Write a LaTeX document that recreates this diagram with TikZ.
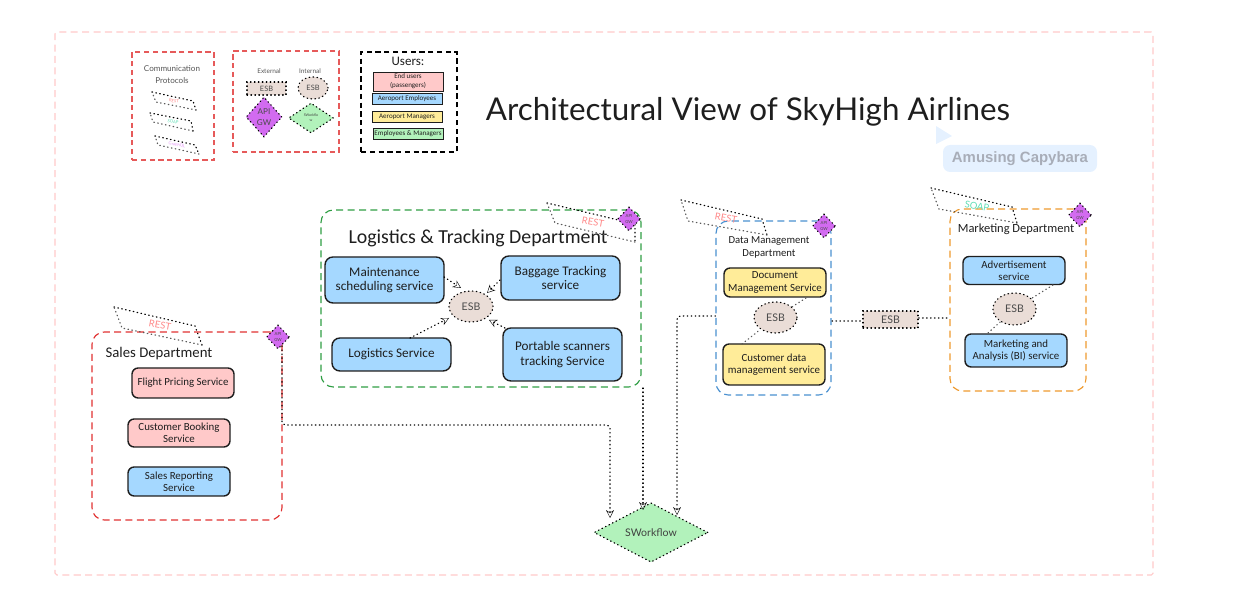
\documentclass[tikz,border=0pt]{standalone}
\usepackage{fontspec}
\setmainfont{Lato}
\newfontfamily\handfont{Carlito}
\newfontfamily\badgefont{Liberation Sans}
\usetikzlibrary{shapes.geometric,arrows.meta}

\definecolor{framepink}{HTML}{FFC9C9}
\definecolor{salesred}{HTML}{E03131}
\definecolor{logigreen}{HTML}{2F9E44}
\definecolor{datablue}{HTML}{4A90D0}
\definecolor{markorange}{HTML}{EE9A2E}
\definecolor{svcblue}{HTML}{A5D8FF}
\definecolor{svcpink}{HTML}{FFC9C9}
\definecolor{svcyellow}{HTML}{FFEC99}
\definecolor{svcgreen}{HTML}{B2F2BB}
\definecolor{esbfill}{HTML}{EADDD7}
\definecolor{gwviolet}{HTML}{D26BF0}
\definecolor{restpink}{HTML}{FF8787}
\definecolor{soapgreen}{HTML}{5FDDB5}
\definecolor{graphviolet}{HTML}{E599F7}
\definecolor{inktext}{HTML}{1E1E1E}
\definecolor{badgeblue}{HTML}{E5F1FF}
\definecolor{badgegray}{HTML}{A8ADB8}

\tikzset{
  wh/.style 2 args={minimum width=#1*0.02cm,minimum height=#2*0.02cm,inner sep=0pt},
  dotline/.style={line width=0.7pt,line cap=round,dash pattern=on 0.35pt off 1.9pt,draw=black},
  grayline/.style={line width=0.7pt,line cap=round,dash pattern=on 0.35pt off 1.9pt,draw=black!65},
  arrowline/.style={dotline,-{Stealth[open,length=4.5pt,width=4.5pt,line width=0.25pt]}},
  group/.style={draw=#1,line width=0.65pt,rounded corners=7pt,dash pattern=on 4pt off 2.5pt},
  legendbox/.style={draw=#1,line width=0.6pt,dash pattern=on 3pt off 2pt},
  service/.style={draw=inktext,fill=#1,line width=0.8pt,rounded corners=4.5pt,align=center,text=inktext,
    font=\handfont\fontsize{7.5}{8.4}\selectfont},
  smallservice/.style={service=#1,rounded corners=3.5pt,font=\handfont\fontsize{6.2}{7}\selectfont},
  userbox/.style={draw=inktext,fill=#1,line width=0.5pt,align=center,text=inktext,
    font=\handfont\fontsize{4}{5.2}\selectfont},
  esbnode/.style={dotline,fill=esbfill,text=inktext!80,font=\fontsize{6}{7}\selectfont},
  gwnode/.style={diamond,dotline,fill=gwviolet,align=center,text=inktext!80,font=\fontsize{2.4}{3.4}\selectfont},
  flownode/.style={diamond,dotline,fill=svcgreen,align=center,text=inktext!85,font=\fontsize{6}{7}\selectfont},
  hand/.style 2 args={align=center,text=inktext,font=\handfont\fontsize{#1}{#2}\selectfont},
  plainlabel/.style 2 args={align=center,text=inktext!75,font=\fontsize{#1}{#2}\selectfont},
  proto/.style={text=#1,font=\fontsize{5.4}{6}\selectfont,rotate=-10},
  tinyproto/.style={proto=#1,font=\fontsize{2.4}{3}\selectfont}
}

\begin{document}
\begin{tikzpicture}[x=0.02cm,y=-0.02cm]
  \useasboundingbox(0,0)rectangle(1251,597);

  % frame
  \node[wh={1098}{543},draw=framepink,line width=0.6pt,dash pattern=on 4pt off 2.5pt,rounded corners=1pt](frame)at(604,303.5){};

  % legend
  \node[wh={82}{108},legendbox=salesred!80](protobox)at(173,106){};
  \node[wh={106}{101},legendbox=salesred!80](shapebox)at(286,101.5){};
  \node[wh={96}{100},legendbox=black](userbox)at(409,102){};
  \node[plainlabel={4.6}{6.8}](prototitle)at(172,75){Communication\\Protocols};
  \draw[dotline](152,92)--(193,101)--(196,110);
  \draw[grayline](196,110)--(156,102)--(152,92);
  \node[tinyproto=restpink](protoa)at(174,101){REST};
  \draw[dotline](150,113)--(191,121)--(193,131);
  \draw[grayline](193,131)--(153,122)--(150,113);
  \node[tinyproto=soapgreen](protob)at(173,122){SOAP};
  \draw[dotline](155,136)--(195,145)--(199,154);
  \draw[grayline](199,154)--(158,145)--(155,136);
  \node[tinyproto=graphviolet](protoc)at(177,145){GraphQL};
  \node[plainlabel={3.7}{4.4}](extlabel)at(269,71){External};
  \node[plainlabel={3.7}{4.4}](intlabel)at(310,71){Internal};
  \node[esbnode,wh={39}{13},font=\fontsize{4.2}{5}\selectfont](extesb)at(266.5,88.5){ESB};
  \node[esbnode,ellipse,wh={30}{22},font=\fontsize{4.2}{5}\selectfont](intesb)at(313,88){ESB};
  \node[gwnode,wh={36}{40},font=\fontsize{4.6}{6}\selectfont](legendgw)at(264,117){API\\GW};
  \node[flownode,wh={45}{30},font=\fontsize{2}{3}\selectfont](legendflow)at(311,118){SWorkflo\\w};
  \node[hand={7.4}{9}](usertitle)at(408,61){Users:};
  \node[userbox=svcpink,wh={70}{19}](enduser)at(408,81.5){End users\\(passengers)};
  \node[userbox=svcblue,wh={70}{11}](aeroemp)at(407,98.5){Aeroport Employees};
  \node[userbox=svcyellow,wh={70}{11}](aeroman)at(407,116.5){Aeroport Managers};
  \node[userbox=svcgreen,wh={70}{11}](empman)at(408,133.5){Employees \& Managers};

  % title
  \node[text=inktext,font=\fontsize{17.85}{20}\selectfont](title)at(748,112){Architectural View of SkyHigh Airlines};
  \fill[badgeblue](936,126)--(952,136)--(936,144)--cycle;
  \node[wh={154}{27},fill=badgeblue,rounded corners=4pt,text=badgegray,font=\badgefont\bfseries\fontsize{8.5}{9}\selectfont](badge)at(1020,158.5){Amusing Capybara};

  % departments
  \node[wh={190}{188},group=salesred](sales)at(187,426){};
  \node[wh={320}{177},group=logigreen](logistics)at(481,298.5){};
  \node[wh={115}{174},group=datablue](data)at(773.5,308){};
  \node[wh={136}{182},group=markorange](marketing)at(1018,300){};
  \node[hand={8.4}{10}](salestitle)at(159,354){Sales Department};
  \node[hand={11.3}{13}](logititle)at(478,238){Logistics \& Tracking Department};
  \node[hand={6.1}{7.4}](datatitle)at(769,247.5){Data Management\\Department};
  \node[hand={7.1}{9}](marktitle)at(1016,229){Marketing Department};

  % protocol shapes
  \draw[dotline](114,307)--(195,326)--(202,345);
  \draw[grayline](202,345)--(122,328)--(114,307);
  \node[proto=restpink](restsales)at(160,325){REST};
  \draw[dotline](547,203)--(635,224)--(635,242);
  \draw[grayline](635,242)--(555,223)--(547,203);
  \node[proto=restpink](restlogi)at(593,222){REST};
  \draw[dotline](681,200)--(762,219)--(767,235);
  \draw[grayline](767,235)--(688,221)--(681,200);
  \node[proto=restpink](restdata)at(726,218){REST};
  \draw[dotline](931,188)--(1012,207)--(1017,223);
  \draw[grayline](1017,223)--(939,209)--(931,188);
  \node[proto=soapgreen](soapmark)at(977,206){SOAP};

  % gateways
  \node[gwnode,wh={23}{24}](salesgw)at(278,337){API\\GW};
  \node[gwnode,wh={23}{24}](logigw)at(629,219){API\\GW};
  \node[gwnode,wh={23}{24}](datagw)at(824,226){API\\GW};
  \node[gwnode,wh={23}{24}](markgw)at(1080,215){API\\GW};

  % sales services
  \node[smallservice=svcpink,wh={102}{30}](flight)at(183,383){Flight Pricing Service};
  \node[smallservice=svcpink,wh={102}{28}](booking)at(179,433){Customer Booking\\Service};
  \node[smallservice=svcblue,wh={102}{29}](reporting)at(179,481.5){Sales Reporting\\Service};

  % logistics services
  \node[service=svcblue,wh={119}{46}](maint)at(384.5,280){Maintenance\\scheduling service};
  \node[service=svcblue,wh={119}{44}](baggage)at(560.5,278){Baggage Tracking\\service};
  \node[service=svcblue,wh={119}{33}](logserv)at(391.5,354.5){Logistics Service};
  \node[service=svcblue,wh={119}{53}](portable)at(562.5,354.5){Portable scanners\\tracking Service};
  \node[esbnode,ellipse,wh={44}{31}](logiesb)at(471,306.5){ESB};
  \coordinate(maintout)at(444,277);
  \coordinate(maintin)at(461,288);
  \coordinate(bagout)at(500,280);
  \coordinate(bagin)at(487,293);
  \coordinate(logout)at(410,338);
  \coordinate(login)at(449,318);
  \coordinate(portout)at(505,328);
  \coordinate(portin)at(489,320);
  \draw[arrowline](maintout)--(maintin);
  \draw[arrowline](bagout)--(bagin);
  \draw[arrowline](logout)--(login);
  \draw[arrowline](portout)--(portin);

  % data services
  \node[smallservice=svcyellow,wh={102}{29}](document)at(775,282.5){Document\\Management Service};
  \node[smallservice=svcyellow,wh={102}{41}](customer)at(774,364.5){Customer data\\management service};
  \node[esbnode,ellipse,wh={43}{31}](dataesb)at(775.5,317.5){ESB};
  \coordinate(docout)at(806,298);
  \coordinate(custout)at(742,344);
  \draw[grayline](docout)--(dataesb);
  \draw[grayline](custout)--(dataesb);

  % marketing services
  \node[smallservice=svcblue,wh={102}{28}](advert)at(1014,270.5){Advertisement\\service};
  \node[smallservice=svcblue,wh={102}{33}](analysis)at(1016,350.5){Marketing and\\Analysis (BI) service};
  \node[esbnode,ellipse,wh={43}{32}](markesb)at(1014.5,309){ESB};
  \coordinate(adout)at(1053,285);
  \coordinate(biout)at(988,333);
  \draw[grayline](adout)--(markesb);
  \draw[grayline](biout)--(markesb);

  % bus between departments
  \node[esbnode,wh={55}{17}](busesb)at(890.5,319.5){ESB};
  \coordinate(dataright)at(832,321);
  \coordinate(markleft)at(950,318);
  \draw[grayline](dataright)--(busesb.west|-dataright);
  \draw[grayline](busesb.east|-markleft)--(markleft);

  % workflow
  \node[flownode,wh={114}{49}](flow)at(651,532.5){SWorkflow};
  \coordinate(salesdown)at(282,346);
  \coordinate(salescorner)at(282,425);
  \coordinate(flowa)at(610,518);
  \coordinate(logibottom)at(643,388);
  \coordinate(flowb)at(643,510);
  \coordinate(dataleft)at(715.5,316);
  \coordinate(flowc)at(677,515);
  \draw[arrowline,rounded corners=2pt](salesdown)--(salescorner)-|(flowa);
  \draw[arrowline](logibottom)--(flowb);
  \draw[arrowline,rounded corners=2pt](dataleft)-|(flowc);
\end{tikzpicture}
\end{document}
